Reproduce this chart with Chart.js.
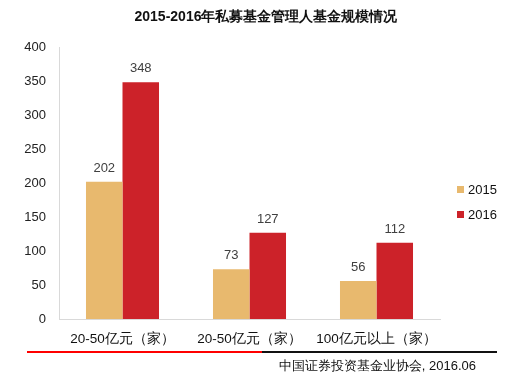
<!DOCTYPE html>
<html>
<head>
<meta charset="utf-8">
<script src="https://cdn.jsdelivr.net/npm/chart.js@4/dist/chart.umd.min.js"></script>
<style>
  body { margin: 0; background: #fff; }
  .wrap { position: relative; width: 532px; height: 378px; font-family: "Liberation Sans", Arial, sans-serif; }
  .title { position: absolute; top: 8px; left: 0; width: 532px; text-align: center; font-weight: bold; font-size: 14px; color: #111; }
  .line-red { position: absolute; left: 27px; top: 351px; width: 235px; height: 2px; background: #ff0000; }
  .line-black { position: absolute; left: 262px; top: 351px; width: 235px; height: 2px; background: #111; }
  .source { position: absolute; right: 56px; top: 357px; font-size: 13px; color: #111; }
  canvas { position: absolute; left: 0; top: 0; }
</style>
</head>
<body>
<div class="wrap">
  <canvas id="chart" width="532" height="378"></canvas>
  <div class="title">2015-2016年私募基金管理人基金规模情况</div>
  <div class="line-red"></div>
  <div class="line-black"></div>
  <div class="source">中国证券投资基金业协会, 2016.06</div>
</div>
<script>
const categories = ["20-50亿元（家）", "20-50亿元（家）", "100亿元以上（家）"];
const seriesNames = ["2015", "2016"];
const values2015 = [202, 73, 56];
const values2016 = [348, 127, 112];
const yTicks = [0, 50, 100, 150, 200, 250, 300, 350, 400];
const colors = ["#e8b96e", "#cc2229"];

const elChart = document.getElementById("chart");

// value labels above each bar
const barLabels = {
  id: "barLabels",
  afterDatasetsDraw(chart) {
    const ctx = chart.ctx;
    ctx.save();
    ctx.font = "13px 'Liberation Sans', Arial, sans-serif";
    ctx.fillStyle = "#404040";
    ctx.textAlign = "center";
    ctx.textBaseline = "bottom";
    chart.data.datasets.forEach((ds, i) => {
      chart.getDatasetMeta(i).data.forEach((bar, j) => {
        ctx.fillText(ds.data[j], bar.x, bar.y - 7);
      });
    });
    ctx.restore();
  }
};

// legend on the right
const sideLegend = {
  id: "sideLegend",
  afterDraw(chart) {
    const ctx = chart.ctx;
    ctx.save();
    ctx.font = "13px 'Liberation Sans', Arial, sans-serif";
    ctx.textBaseline = "middle";
    chart.data.datasets.forEach((ds, i) => {
      const y = 190 + i * 25;
      ctx.fillStyle = ds.backgroundColor;
      ctx.fillRect(457, y - 4, 7, 7);
      ctx.fillStyle = "#111";
      ctx.fillText(ds.label, 468, y);
    });
    ctx.restore();
  }
};

new Chart(elChart, {
  type: "bar",
  data: {
    labels: categories,
    datasets: [
      { label: seriesNames[0], data: values2015, backgroundColor: colors[0] },
      { label: seriesNames[1], data: values2016, backgroundColor: colors[1] }
    ]
  },
  options: {
    responsive: false,
    animation: false,
    layout: { padding: { top: 47, right: 92, left: 0, bottom: 0 } },
    datasets: { bar: { categoryPercentage: 0.575, barPercentage: 1 } },
    plugins: { legend: { display: false }, tooltip: { enabled: false } },
    scales: {
      x: {
        grid: { display: false, drawTicks: false },
        border: { display: true, color: "#d9d9d9" },
        ticks: { color: "#111", padding: 12, font: { size: 13.5, family: "'Liberation Sans', Arial, sans-serif" }, maxRotation: 0 },
        afterFit(scale) { scale.height = 59; }
      },
      y: {
        min: 0,
        max: 400,
        afterBuildTicks(scale) { scale.ticks = yTicks.map(v => ({ value: v })); },
        grid: { display: false, drawTicks: false },
        border: { display: true, color: "#d9d9d9" },
        ticks: { color: "#222", padding: 13, font: { size: 13, family: "'Liberation Sans', Arial, sans-serif" } },
        afterFit(scale) { scale.width = 59; }
      }
    }
  },
  plugins: [barLabels, sideLegend]
});
</script>
</body>
</html>
